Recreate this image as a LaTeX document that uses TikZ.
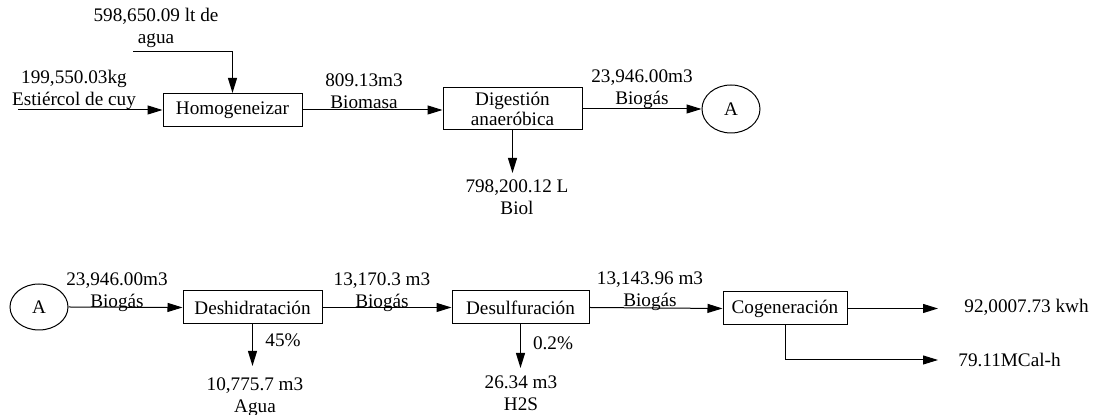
\documentclass[tikz,border=0pt]{standalone}
\usepackage{fontspec}
\setmainfont{Liberation Serif}
\usepackage{tikz}
\usetikzlibrary{shapes.geometric,arrows.meta,positioning}

\begin{document}
\begin{tikzpicture}[
      x=0.5pt, y=-0.5pt,
      every node/.style={font=\fontsize{9.6}{11}\selectfont},
      box/.style={draw, line width=0.5pt, minimum width=69.5pt,
                  minimum height=16.5pt, inner sep=0pt, align=center},
      conn/.style={draw, line width=0.5pt, ellipse, inner sep=0pt,
                   minimum width=29pt, minimum height=24pt},
      lbl/.style={align=center, inner sep=0pt},
      flow/.style={-{Triangle[length=7.5pt, width=4.5pt]}, line width=0.5pt}]
    \useasboundingbox (0,0) rectangle (1100,415);
    \node[box] (hom) at (232.5,110) {Homogeneizar};
    \node[box, minimum height=21pt] (dig) at (512.5,109)
      {Digestión\\[-1pt]anaeróbica};
    \node[conn] (a1) at (731,109) {A};
    \node[conn, minimum height=23pt] (a2) at (39,307) {A};
    \node[box] (des) at (252.5,307.5) {Deshidratación};
    \node[box, minimum width=68.5pt] (sul) at (520.5,307.5) {Desulfuración};
    \node[box, minimum width=62pt] (cog) at (785,308.5) {Cogeneración};

    \node[lbl] (lagua) at (156,28) {598,650.09 lt de\\agua};
    \node[lbl] (lcuy) at (74,90) {199,550.03kg\\Estiércol de cuy};
    \node[lbl] (lbiom) at (364,91.5) {809.13m3\\Biomasa};
    \node[lbl] (lbiog1) at (642,89) {23,946.00m3\\Biogás};
    \node[lbl] (lbiol) at (517,197.5) {798,200.12 L\\Biol};
    \node[lbl] (lbiog2) at (117,292) {23,946.00m3\\Biogás};
    \node[lbl] (lbiog3) at (382,292) {13,170.3 m3\\Biogás};
    \node[lbl] (lbiog4) at (650,291) {13,143.96 m3\\Biogás};
    \node[lbl] (lpct1) at (283,340) {45\%};
    \node[lbl] (lpct2) at (553,343) {0.2\%};
    \node[lbl] (lagua2) at (255,397) {10,775.7 m3\\Agua};
    \node[lbl] (lh2s) at (521,393) {26.34 m3\\H2S};
    \node[lbl, anchor=west] (lkwh) at (964,307) {92,0007.73 kwh};
    \node[lbl, anchor=west] (lmcal) at (958,360) {79.11MCal-h};

    \coordinate (wstart) at (133,52);
    \coordinate (cstart) at (18,110);
    \coordinate (biolEnd) at (512.5,173);
    \coordinate (aguaEnd) at (252.5,366);
    \coordinate (h2sEnd) at (520.5,368);
    \coordinate (kwhEnd) at (938,308.5);
    \coordinate (mcalEnd) at (938,360);

    \draw[flow] (wstart) -| (hom.north);
    \draw[flow] (cstart) -- (hom.west);
    \draw[flow] (hom.east) -- (hom.east -| dig.west);
    \draw[flow] (dig.east) -- (a1.west);
    \draw[flow] (dig.south) -- (biolEnd);
    \draw[flow] (a2.east) -- (des.west);
    \draw[flow] (des.east) -- (sul.west);
    \draw[flow] (sul.east) -- (cog.west);
    \draw[flow] (des.south) -- (aguaEnd);
    \draw[flow] (sul.south) -- (h2sEnd);
    \draw[flow] (cog.east) -- (kwhEnd);
    \draw[flow] (cog.south) |- (mcalEnd);
  \end{tikzpicture}
\end{document}
